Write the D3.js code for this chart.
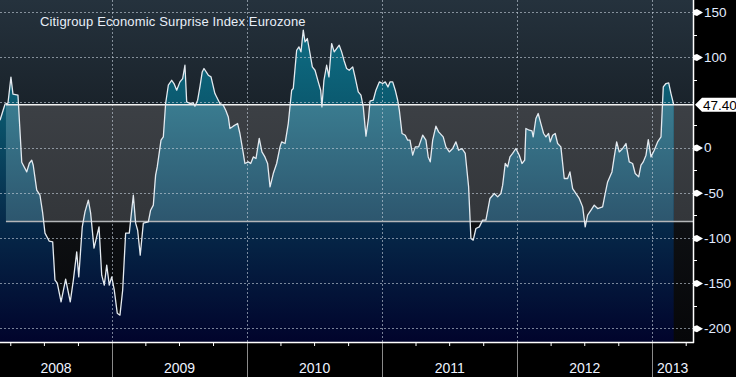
<!DOCTYPE html>
<html><head><meta charset="utf-8">
<script src="https://cdn.jsdelivr.net/npm/d3@7"></script>
<style>html,body{margin:0;padding:0;background:#000;overflow:hidden}svg{display:block}</style>
</head><body><svg id="c" width="736" height="377"></svg>
<script>
// ---- data (decimal year, index value) ----
const years = [
2008.171,2008.208,2008.230,2008.252,2008.267,2008.304,2008.332,2008.369,2008.388,2008.406,2008.417,2008.443,2008.467,2008.487,2008.504,2008.536,2008.561,2008.578,2008.595,2008.623,2008.657,2008.691,2008.714,2008.739,2008.754,2008.780,2008.800,2008.825,2008.842,2008.867,2008.904,2008.924,2008.943,2008.961,2008.980,2008.998,
2009.017,2009.039,2009.059,2009.079,2009.101,2009.128,2009.158,2009.175,2009.190,2009.209,2009.232,2009.269,2009.286,2009.306,2009.318,2009.323,2009.335,2009.363,2009.380,2009.397,2009.417,2009.442,2009.459,2009.479,2009.503,2009.523,2009.540,2009.553,2009.577,2009.602,2009.614,2009.634,2009.651,2009.668,2009.681,2009.713,2009.733,2009.762,2009.799,2009.824,2009.842,2009.861,2009.873,2009.898,2009.930,2009.947,2009.972,2009.984,
2010.009,2010.027,2010.046,2010.066,2010.090,2010.110,2010.132,2010.152,2010.170,2010.194,2010.219,2010.244,2010.256,2010.281,2010.305,2010.330,2010.342,2010.367,2010.384,2010.399,2010.416,2010.429,2010.446,2010.466,2010.483,2010.503,2010.527,2010.545,2010.554,2010.569,2010.589,2010.606,2010.626,2010.645,2010.663,2010.682,2010.700,2010.717,2010.737,2010.756,2010.782,2010.799,2010.823,2010.843,2010.860,2010.880,2010.899,2010.910,2010.934,2010.954,2010.979,
2011.004,2011.023,2011.043,2011.058,2011.078,2011.097,2011.115,2011.127,2011.147,2011.171,2011.189,2011.206,2011.226,2011.245,2011.270,2011.300,2011.324,2011.341,2011.356,2011.374,2011.398,2011.418,2011.452,2011.472,2011.497,2011.522,2011.546,2011.566,2011.591,2011.615,2011.640,2011.657,2011.674,2011.694,2011.719,2011.744,2011.768,2011.798,2011.830,2011.855,2011.879,2011.892,2011.911,2011.929,2011.946,2011.966,2011.990,
2012.015,2012.035,2012.055,2012.064,2012.089,2012.109,2012.118,2012.138,2012.155,2012.175,2012.195,2012.212,2012.232,2012.244,2012.262,2012.281,2012.299,2012.323,2012.348,2012.373,2012.390,2012.410,2012.459,2012.484,2012.503,2012.521,2012.546,2012.570,2012.595,2012.632,2012.651,2012.669,2012.701,2012.718,2012.736,2012.755,2012.780,2012.805,2012.829,2012.854,2012.873,2012.899,2012.916,2012.933,2012.953,2012.970,2012.990,
2013.014,2013.039,2013.064,2013.081,2013.101,2013.121,2013.138,2013.158
];
const values = [
30.2,47.9,49.0,77.8,59.0,57.9,-16.3,-27.0,-17.4,-14.0,-19.6,-47.2,-52.8,-72.7,-94.8,-103.7,-104.4,-146.8,-150.1,-170.8,-145.7,-170.8,-146.8,-115.5,-143.1,-87.8,-71.2,-58.3,-72.7,-111.4,-87.8,-141.3,-152.3,-130.2,-152.3,-143.1,
-157.9,-183.3,-185.5,-157.9,-94.8,-94.8,-52.8,-83.7,-91.5,-119.1,-83.7,-82.3,-69.4,-63.8,-39.5,-30.6,-21.5,8.1,11.7,48.7,68.9,74.4,70.8,63.4,72.6,76.3,91.0,50.4,48.7,49.3,45.7,52.3,67.0,83.6,87.4,80.0,78.1,59.7,48.7,46.8,41.3,33.8,21.0,23.6,26.5,15.5,-6.6,-17.7,
-15.9,-17.7,-10.4,-12.2,10.0,-4.9,-10.4,-17.7,-43.6,-28.8,-17.7,0.7,6.2,4.4,26.5,63.4,65.3,107.6,111.3,105.8,129.8,116.8,120.6,104.0,89.2,85.5,72.6,63.4,44.9,74.4,91.0,78.1,115.0,105.8,109.5,113.2,105.8,96.6,87.4,85.5,89.2,78.1,61.5,57.9,44.9,12.5,32.4,51.2,52.3,63.4,72.6,
70.8,72.6,67.0,72.6,72.6,63.4,52.3,41.3,15.5,13.6,8.1,8.1,-8.5,0.7,0.7,13.6,8.1,-10.4,-15.9,8.1,23.6,17.3,11.7,0.7,-4.9,-1.1,6.2,-3.0,-1.1,-6.6,-43.6,-100.7,-102.5,-89.6,-87.8,-80.4,-80.4,-56.4,-50.9,-54.6,-50.9,-41.7,-17.7,-21.5,-10.4,-6.6,-1.1,
-8.5,-17.7,-14.0,21.0,19.1,18.4,11.7,32.1,37.6,26.5,15.5,11.7,15.5,6.2,13.6,15.5,4.4,0.7,-34.3,-34.3,-27.0,-45.4,-56.4,-65.7,-87.8,-74.9,-69.4,-63.8,-67.5,-65.7,-50.9,-38.1,-27.0,-10.4,6.2,-4.9,-1.1,4.4,-15.9,-17.7,-28.8,-32.5,-19.6,-15.9,-8.5,8.8,-10.4,
-3.0,6.2,11.7,67.0,70.8,71.5,59.7,47.4
];
const title = "Citigroup Economic Surprise Index Eurozone";
const gridTicks = [150,100,50,0,-50,-100,-150,-200];
const labelTicks = [150,100,0,-50,-100,-150,-200];
const minorTicks = [125,75,25,-25,-75,-125,-175];
const yearLabels = ["2008","2009","2010","2011","2012","2013"];
const yearStarts = [2009,2010,2011,2012,2013];
const quarterOffsets = [0.247,0.496,0.748];
const lastValue = 47.40;
const lastLabel = "47.40";
const bandLow = -82;
const bandStart = 2008.215;
const xDomain = [2008.171, 2013.301];
const yDomain = [-215.2, 163.2];

// ---- layout ----
const W = 736, H = 377, PW = 693, PH = 342;
const svg = d3.select("#c");
const x = d3.scaleLinear().domain(xDomain).range([0, PW]);
const y = d3.scaleLinear().domain(yDomain).range([PH, 0]);
const data = years.map((t, i) => ({t, v: values[i]}));

const defs = svg.append("defs");
function grad(id, stops) {
  const g = defs.append("linearGradient").attr("id", id)
    .attr("gradientUnits", "userSpaceOnUse")
    .attr("x1", 0).attr("x2", 0).attr("y1", 0).attr("y2", PH);
  stops.forEach(([o, c]) => g.append("stop").attr("offset", o).attr("stop-color", c));
}
grad("bg", [[0, "#25323d"], [0.3, "#1a232b"], [0.65, "#0e1013"], [1, "#060709"]]);
grad("area", [[0, "#10758c"], [0.3, "#0b5a70"], [0.65, "#062a4a"], [1, "#01042c"]]);
grad("bandBg", [[0.3, "#3c4045"], [0.65, "#33363a"]]);
grad("bandArea", [[0.3, "#3a7c90"], [0.65, "#2d566e"]]);

const bx0 = x(bandStart), by0 = y(lastValue), by1 = y(bandLow);
defs.append("clipPath").attr("id", "cpPlot").append("rect")
  .attr("x", 0).attr("y", 0).attr("width", PW).attr("height", PH);
defs.append("clipPath").attr("id", "cpBand").append("rect")
  .attr("x", bx0).attr("y", by0).attr("width", PW - bx0).attr("height", by1 - by0);

svg.append("rect").attr("width", W).attr("height", H).attr("fill", "#000");
svg.append("rect").attr("width", PW).attr("height", PH).attr("fill", "url(#bg)");
svg.append("rect").attr("x", bx0).attr("y", by0).attr("width", PW - bx0).attr("height", by1 - by0).attr("fill", "url(#bandBg)");

const area = d3.area().x(d => x(d.t)).y0(PH).y1(d => y(d.v));
svg.append("path").datum(data).attr("d", area).attr("fill", "url(#area)").attr("clip-path", "url(#cpPlot)");
svg.append("path").datum(data).attr("d", area).attr("fill", "url(#bandArea)").attr("clip-path", "url(#cpBand)");

// grid
const grid = svg.append("g").attr("stroke", "rgba(200,210,222,0.6)").attr("stroke-dasharray", "2,2").attr("stroke-width", 1);
grid.selectAll("line.h").data(gridTicks).join("line")
  .attr("x1", 0).attr("x2", PW).attr("y1", d => Math.round(y(d)) + 0.5).attr("y2", d => Math.round(y(d)) + 0.5);
grid.selectAll("line.v").data(yearStarts).join("line")
  .attr("y1", 0).attr("y2", PH).attr("x1", d => Math.round(x(d)) + 0.5).attr("x2", d => Math.round(x(d)) + 0.5);

// band edges
svg.append("line").attr("x1", bx0).attr("x2", PW).attr("y1", by1).attr("y2", by1).attr("stroke", "#b4b6b9").attr("stroke-width", 1.5);
svg.append("line").attr("x1", bx0).attr("x2", PW).attr("y1", by0).attr("y2", by0).attr("stroke", "#f0f0f0").attr("stroke-width", 1.5);

// series line
const line = d3.line().x(d => x(d.t)).y(d => y(d.v));
svg.append("path").datum(data).attr("d", line).attr("fill", "none")
  .attr("stroke", "#e4eaf0").attr("stroke-width", 1.3).attr("stroke-linejoin", "round");

// title
svg.append("text").attr("x", 40).attr("y", 25.5).text(title)
  .attr("font-family", "Liberation Sans, Arial, sans-serif").attr("font-size", 13).attr("letter-spacing", 0.15).attr("fill", "#e8eef8");

// right axis
const yAxis = d3.axisRight(y).tickValues(labelTicks).tickSize(0).tickPadding(11).tickFormat(d => String(d));
const ya = svg.append("g").attr("transform", `translate(${PW},0)`).call(yAxis);
ya.select(".domain").remove();
ya.selectAll("text").attr("font-family", "Liberation Sans, Arial, sans-serif").attr("font-size", 13.5).attr("fill", "#e2ecff");
ya.selectAll(".tick").append("path").attr("d", "M1,-2.5 L4,-3.5 L10,0 L4,3.5 L1,2.5 Z").attr("fill", "#fff");
svg.append("g").selectAll("line").data(minorTicks).join("line")
  .attr("x1", PW).attr("x2", PW + 4).attr("y1", d => Math.round(y(d)) + 0.5).attr("y2", d => Math.round(y(d)) + 0.5)
  .attr("stroke", "#fff");

// bottom axis
const quarterTicks = [2008].concat(yearStarts).flatMap(yr => quarterOffsets.map(q => yr + q)).filter(t => t > xDomain[0] && t < xDomain[1]);
const xAxis = d3.axisBottom(x).tickValues(quarterTicks).tickSize(4).tickFormat("");
const xa = svg.append("g").attr("transform", `translate(0,${PH})`).call(xAxis);
xa.select(".domain").remove();
xa.selectAll(".tick line").attr("stroke", "#fff");
svg.append("g").selectAll("line").data(yearStarts).join("line")
  .attr("x1", d => Math.round(x(d)) + 0.5).attr("x2", d => Math.round(x(d)) + 0.5)
  .attr("y1", PH).attr("y2", H).attr("stroke", "#8a8a8a");
svg.append("g").selectAll("text").data(yearLabels).join("text")
  .attr("x", d => { const a = Math.max(+d, xDomain[0]), b = Math.min(+d + 1, xDomain[1]); return (x(a) + x(b)) / 2; })
  .attr("y", 373).attr("text-anchor", "middle").text(d => d)
  .attr("font-family", "Liberation Sans, Arial, sans-serif").attr("font-size", 14).attr("fill", "#eef3ff");

// axis lines
svg.append("line").attr("x1", 0).attr("x2", PW + 1).attr("y1", PH + 0.5).attr("y2", PH + 0.5).attr("stroke", "#fff").attr("stroke-width", 1.5);
svg.append("line").attr("x1", PW + 0.5).attr("x2", PW + 0.5).attr("y1", 0).attr("y2", PH + 1).attr("stroke", "#fff").attr("stroke-width", 1.5);

// last value label
const ly = y(lastValue);
svg.append("path").attr("d", `M${PW + 2},${ly} L${PW + 9},${ly - 7} L${W},${ly - 7} L${W},${ly + 7} L${PW + 9},${ly + 7} Z`).attr("fill", "#fff");
svg.append("text").attr("x", PW + 10).attr("y", ly + 5).text(lastLabel)
  .attr("font-family", "Liberation Sans, Arial, sans-serif").attr("font-size", 13.5).attr("fill", "#000");
</script></body></html>
